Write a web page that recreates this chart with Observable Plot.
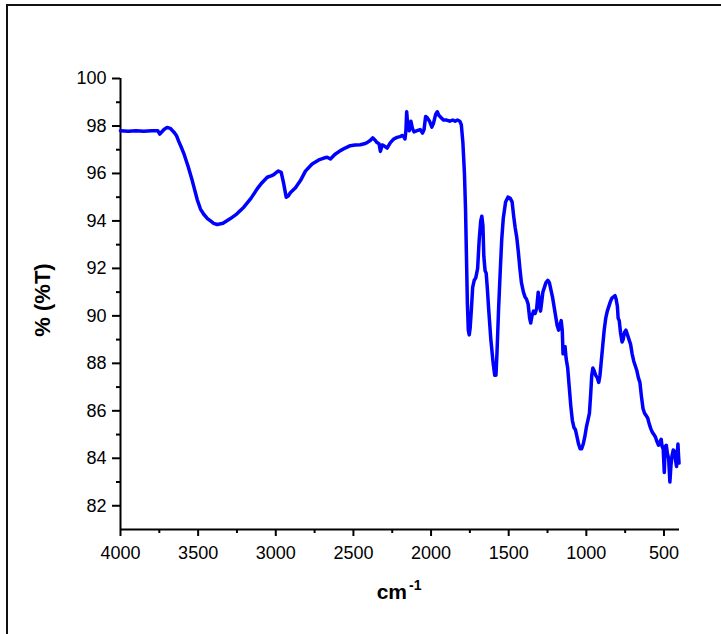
<!DOCTYPE html>
<html>
<head>
<meta charset="utf-8">
<script src="https://cdn.jsdelivr.net/npm/d3@7"></script>
<script src="https://cdn.jsdelivr.net/npm/@observablehq/plot@0.6"></script>
<style>
  html, body { margin: 0; padding: 0; background: #fff; }
  #wrap { position: relative; width: 721px; height: 634px; overflow: hidden; }
  #frame { position: absolute; left: 6px; top: 4px; width: 740px; height: 700px;
           border-top: 2.5px solid #111; border-left: 2.5px solid #111; pointer-events: none; }
  #chart { position: absolute; left: 0; top: 0; }
</style>
</head>
<body>
<div id="wrap"><div id="chart"></div><div id="frame"></div></div>
<script>
const wavenumber = [
4000,3950,3900,3850,3800,3760,3747,3720,3700,3680,
3657,3640,3625,3605,3590,3565,3538,3520,3506,3485,
3464,3440,3420,3400,3377,3340,3292,3250,3206,3160,
3120,3090,3055,3030,3013,2995,2983,2965,2950,2933,
2920,2905,2873,2841,2809,2766,2723,2690,2669,2648,
2620,2584,2550,2520,2490,2455,2430,2412,2390,2376,
2360,2348,2335,2326,2315,2305,2283,2262,2240,2219,
2200,2187,2175,2168,2162,2157,2150,2140,2130,2120,
2110,2090,2070,2055,2045,2035,2025,2010,1995,1985,
1970,1960,1950,1935,1920,1900,1880,1860,1845,1830,
1815,1805,1795,1785,1778,1772,1766,1760,1754,1748,1740,1732,1722,1712,1700,1690,1680,1673,
1666,1660,1652,1645,1638,1628,1615,1600,1590,1582,1575,1565,1555,1545,1535,1520,1505,1490,1478,1468,
1458,1448,1438,1428,1418,1405,1395,1385,1375,1365,1358,1350,1340,1330,1320,1310,1302,1295,1287,1280,
1270,1260,1248,1238,1228,1218,1208,1198,1188,1178,1170,1162,1155,1150,1143,1137,1130,1120,1110,1100,
1090,1080,1070,1060,1050,1040,1030,1020,1010,1000,990,980,972,965,958,950,940,930,920,912,
905,895,885,875,865,855,845,835,825,815,808,800,795,788,780,770,763,755,745,735,
725,715,705,695,685,675,665,655,645,635,625,615,605,595,585,575,565,555,545,535,
525,518,512,505,498,492,485,478,470,462,455,448,440,432,425,419,414,410,406,403];
const transmittance = [
97.80,97.78,97.80,97.78,97.80,97.80,97.66,97.85,97.94,97.90,
97.75,97.60,97.35,97.05,96.80,96.30,95.70,95.25,94.90,94.50,
94.28,94.10,94.00,93.90,93.85,93.90,94.10,94.30,94.58,94.95,
95.35,95.60,95.84,95.90,95.95,96.05,96.10,96.05,95.60,95.00,
95.05,95.20,95.40,95.70,96.10,96.40,96.57,96.65,96.68,96.61,
96.80,96.96,97.08,97.17,97.20,97.21,97.25,97.30,97.40,97.50,
97.40,97.30,97.25,96.93,97.20,97.17,97.07,97.30,97.45,97.52,
97.55,97.60,97.55,97.45,97.80,98.60,98.00,97.80,98.20,97.90,
97.75,97.80,97.85,97.70,97.85,98.40,98.35,98.20,97.95,98.10,
98.50,98.60,98.45,98.35,98.25,98.25,98.20,98.25,98.20,98.25,
98.20,98.05,97.30,96.00,94.50,92.50,90.50,89.40,89.20,89.50,90.30,91.20,91.50,91.60,92.00,93.20,94.00,94.20,
93.80,92.50,91.90,91.80,91.20,90.20,89.00,88.00,87.50,87.50,88.50,90.30,91.80,93.20,94.10,94.80,95.00,94.95,94.80,94.20,
93.70,93.30,92.70,92.00,91.40,91.00,90.80,90.70,90.50,89.90,89.70,90.00,90.20,90.10,90.30,91.00,90.60,90.20,90.60,91.00,
91.20,91.40,91.50,91.40,91.10,90.80,90.40,90.00,89.60,89.40,89.60,89.80,89.40,88.40,88.60,88.70,88.20,87.80,87.00,86.20,
85.60,85.30,85.20,84.90,84.60,84.40,84.40,84.60,84.90,85.30,85.60,85.90,86.70,87.50,87.80,87.70,87.50,87.40,87.20,87.50,
88.00,88.70,89.40,89.90,90.20,90.40,90.60,90.75,90.80,90.85,90.70,90.40,89.90,89.80,89.30,88.90,89.00,89.30,89.40,89.20,
89.00,88.80,88.40,88.10,87.90,87.70,87.40,87.20,86.60,86.10,85.90,85.80,85.70,85.45,85.25,85.10,85.00,84.90,84.70,84.55,
84.70,84.80,84.50,84.40,83.40,84.50,84.55,84.20,84.00,83.00,83.70,84.10,84.35,84.30,83.90,83.65,84.20,84.60,84.10,83.80];

const xMajorTicks = [4000, 3500, 3000, 2500, 2000, 1500, 1000, 500];
const xMinorTicks = [3750, 3250, 2750, 2250, 1750, 1250, 750];
const yMajorTicks = [82, 84, 86, 88, 90, 92, 94, 96, 98, 100];
const yMinorTicks = [83, 85, 87, 89, 91, 93, 95, 97, 99];
const xDomain = [4000, 400];
const yDomain = [81, 100];
const xLabel = "cm";
const xLabelSup = "-1";
const yLabel = "% (%T)";

const data = wavenumber.map((w, i) => ({w, t: transmittance[i]}));

const plot = Plot.plot({
  width: 721,
  height: 634,
  marginLeft: 120,
  marginRight: 42,
  marginTop: 78,
  marginBottom: 105,
  style: {fontFamily: "'Liberation Sans', Arial, sans-serif", fontSize: "18px", color: "#000", background: "transparent"},
  x: {domain: xDomain, type: "linear"},
  y: {domain: yDomain},
  marks: [
    Plot.axisX(xMajorTicks, {tickSize: 7, tickPadding: 10, stroke: "#000", strokeWidth: 2, strokeOpacity: 1, label: null, tickFormat: d => String(d)}),
    Plot.axisX(xMinorTicks, {tickSize: 4, stroke: "#000", strokeWidth: 2, strokeOpacity: 1, text: null, label: null}),
    Plot.axisY(yMajorTicks, {tickSize: 8, tickPadding: 6, stroke: "#000", strokeWidth: 2, strokeOpacity: 1, label: null}),
    Plot.axisY(yMinorTicks, {tickSize: 4, stroke: "#000", strokeWidth: 2, strokeOpacity: 1, text: null, label: null}),
    Plot.ruleY([yDomain[0]], {x1: xDomain[0], x2: xDomain[1], stroke: "#000", strokeWidth: 2}),
    Plot.ruleX([xDomain[0]], {y1: yDomain[0], y2: yDomain[1], stroke: "#000", strokeWidth: 2}),
    Plot.line(data, {x: "w", y: "t", stroke: "#0000ff", strokeWidth: 3.5, strokeLinejoin: "round"}),
    Plot.text([xLabel], {frameAnchor: "bottom", text: d => d, textAnchor: "end", lineAnchor: "bottom", dx: 7, dy: 69, fontSize: 21, fontWeight: "bold", fill: "#000"}),
    Plot.text([xLabelSup], {frameAnchor: "bottom", text: d => d, textAnchor: "start", lineAnchor: "bottom", dx: 9, dy: 60, fontSize: 14, fontWeight: "bold", fill: "#000"}),
    Plot.text([yLabel], {frameAnchor: "left", text: d => d, rotate: -90, textAnchor: "middle", lineAnchor: "bottom", dx: -71, dy: -4, fontSize: 22, fontWeight: "bold", fill: "#000"})
  ]
});
document.getElementById("chart").appendChild(plot);
</script>
</body>
</html>
